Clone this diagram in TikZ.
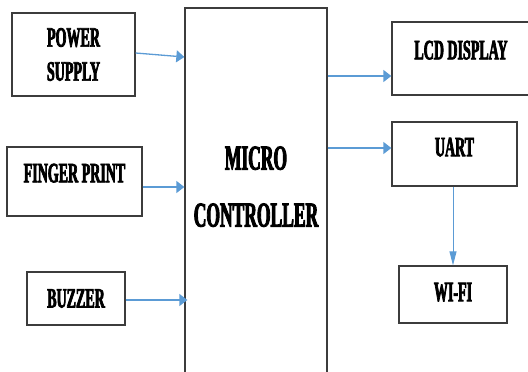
\documentclass[tikz,border=0pt]{standalone}
\usepackage{fontspec}
\usetikzlibrary{arrows.meta}
\newfontfamily\blockfont{Liberation Serif Bold}[FakeStretch=0.5, FakeBold=2.5]
\definecolor{linkblue}{RGB}{91,155,213}
\definecolor{edgegray}{RGB}{60,60,60}

\begin{document}
\begin{tikzpicture}[
    x=1pt, y=-1pt,
    block/.style={rectangle, draw=edgegray, line width=1.3pt, fill=white, inner sep=0pt, align=center, font=\blockfont\fontsize{28}{34}\selectfont},
    arrow/.style={-{Triangle[length=8pt, width=12pt]}, draw=linkblue, line width=1.3pt}
]
\useasboundingbox (0,0) rectangle (528,372);

% inputs on the left
\node[block, minimum width=123pt, minimum height=83pt] (power) at (73.5,54.5) {POWER\\SUPPLY};
\node[block, minimum width=135pt, minimum height=69pt, text depth=17pt] (finger) at (74.5,181.5) {FINGER PRINT};
\node[block, minimum width=98pt, minimum height=53pt] (buzzer) at (76,298.5) {BUZZER};

% controller, runs off the bottom
\node[block, minimum width=142pt, minimum height=367pt, text depth=10pt, font=\blockfont\fontsize{35}{57}\selectfont] (micro) at (256,191.5) {MICRO\\CONTROLLER};

% outputs on the right
\node[block, minimum width=138pt, minimum height=73pt, text depth=17pt] (lcd) at (461,58.5) {LCD DISPLAY};
\node[block, minimum width=125pt, minimum height=64pt, text depth=14pt] (uart) at (454.5,154) {UART};
\node[block, minimum width=108pt, minimum height=57pt, text depth=5pt] (wifi) at (453,294.5) {WI-FI};

% arrow end points
\coordinate (pwrout) at ([yshift=1.5pt]power.east);
\coordinate (pwrin) at ([yshift=-2.5pt]power.east);
\coordinate (fpout) at ([yshift=-5.5pt]finger.east);
\coordinate (bzout) at ([yshift=-1.5pt]buzzer.east);
\coordinate (lcdin) at ([yshift=-17.5pt]lcd.west);
\coordinate (uartin) at ([yshift=6pt]uart.west);

\draw[arrow] (pwrout) -- (pwrin -| micro.west);
\draw[arrow] (fpout) -- (fpout -| micro.west);
\draw[arrow] (bzout) -- ([xshift=3pt]bzout -| micro.west);
\draw[arrow] (lcdin -| micro.east) -- (lcdin);
\draw[arrow] (uartin -| micro.east) -- (uartin);
\draw[arrow, -{Triangle[length=14pt, width=7pt]}, line width=1pt] (wifi.north |- uart.south) -- (wifi.north);
\end{tikzpicture}
\end{document}
